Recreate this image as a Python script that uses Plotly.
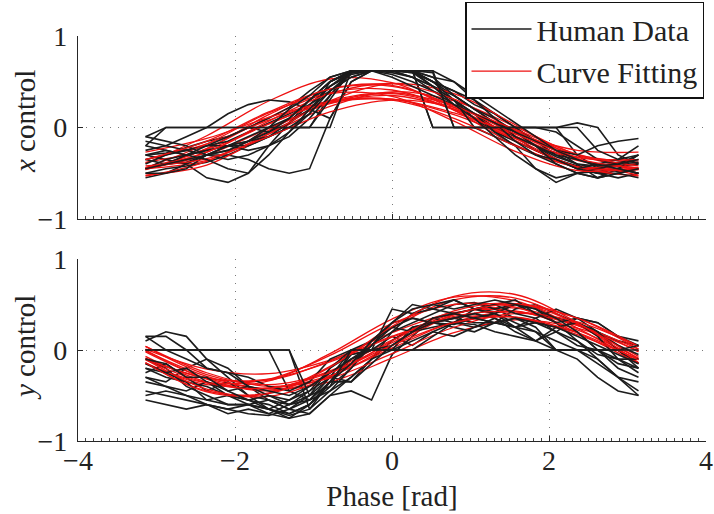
import plotly.graph_objects as go

# ---------------- data ----------------
phase_fit = [-3.14, -2.36, -1.57, -0.79, 0.0, 0.79, 1.57, 2.36, 3.14]
phase_human = [-3.14, -2.88, -2.62, -2.36, -2.09, -1.83, -1.57, -1.31, -1.05,
               -0.79, -0.52, -0.26, 0.0, 0.26, 0.52, 0.79, 1.05, 1.31, 1.57,
               1.83, 2.09, 2.36, 2.62, 2.88, 3.14]

x_human = [
    [-0.10, 0.00, 0.00, 0.00, 0.00, 0.00, 0.00, 0.00, 0.00, 0.35, 0.62, 0.62, 0.62, 0.62, 0.00, 0.00, 0.00, 0.00, 0.00, 0.00, 0.00, -0.30, -0.45, -0.42, -0.40],
    [-0.35, -0.30, -0.22, -0.15, -0.10, 0.00, 0.10, 0.22, 0.40, 0.55, 0.62, 0.62, 0.62, 0.55, 0.45, 0.30, 0.15, 0.00, -0.10, -0.20, -0.32, -0.40, -0.45, -0.48, -0.45],
    [-0.30, -0.35, -0.40, -0.55, -0.60, -0.50, -0.20, 0.05, 0.25, 0.45, 0.60, 0.62, 0.62, 0.60, 0.50, 0.35, 0.20, 0.05, -0.10, -0.25, -0.35, -0.42, -0.50, -0.45, -0.50],
    [-0.45, -0.40, -0.38, -0.30, -0.30, -0.35, -0.45, -0.50, -0.45, 0.10, 0.50, 0.62, 0.62, 0.62, 0.50, 0.40, 0.25, 0.15, 0.00, -0.15, -0.30, -0.40, -0.42, -0.38, -0.35],
    [-0.25, -0.20, -0.10, 0.00, 0.15, 0.25, 0.30, 0.28, 0.20, 0.10, 0.50, 0.62, 0.62, 0.60, 0.45, 0.30, 0.10, -0.05, -0.15, -0.25, -0.35, -0.45, -0.50, -0.50, -0.45],
    [-0.50, -0.45, -0.42, -0.38, -0.30, -0.20, -0.10, 0.05, 0.30, 0.50, 0.60, 0.62, 0.60, 0.55, 0.45, 0.35, 0.20, 0.05, -0.05, -0.20, -0.35, -0.45, -0.50, -0.55, -0.50],
    [-0.55, -0.50, -0.40, -0.30, -0.25, -0.15, -0.05, 0.10, 0.30, 0.45, 0.58, 0.62, 0.62, 0.62, 0.50, 0.40, 0.30, 0.15, 0.00, -0.15, -0.25, -0.40, -0.55, -0.45, -0.30],
    [-0.20, -0.25, -0.30, -0.20, -0.15, -0.05, 0.05, 0.15, 0.25, 0.40, 0.55, 0.62, 0.62, 0.62, 0.00, 0.00, 0.00, 0.00, 0.00, 0.00, -0.05, -0.20, -0.35, -0.40, -0.30],
    [-0.40, -0.30, -0.25, -0.20, -0.10, 0.00, -0.05, 0.05, 0.20, 0.40, 0.60, 0.62, 0.62, 0.62, 0.60, 0.00, 0.00, 0.00, 0.00, 0.00, 0.00, 0.05, 0.00, -0.30, -0.40],
    [-0.35, -0.40, -0.30, -0.25, -0.20, -0.25, -0.20, -0.10, 0.10, 0.35, 0.60, 0.62, 0.58, 0.50, 0.40, 0.25, 0.15, -0.05, -0.20, -0.30, -0.40, -0.50, -0.45, -0.40, -0.38],
    [-0.30, -0.28, -0.25, -0.20, -0.20, -0.10, 0.00, 0.10, 0.30, 0.50, 0.62, 0.62, 0.62, 0.62, 0.50, 0.30, 0.00, -0.10, -0.20, -0.45, -0.60, -0.50, -0.48, -0.45, -0.50],
    [-0.45, -0.35, -0.30, -0.25, -0.20, -0.15, -0.10, 0.00, 0.15, 0.50, 0.62, 0.62, 0.62, 0.62, 0.55, 0.50, 0.30, 0.10, -0.10, -0.20, -0.30, -0.35, -0.40, -0.35, -0.20],
    [-0.15, -0.20, -0.25, -0.30, -0.35, -0.30, -0.20, -0.05, 0.20, 0.45, 0.62, 0.62, 0.62, 0.55, 0.40, 0.30, 0.15, 0.05, -0.15, -0.30, -0.35, -0.45, -0.40, -0.45, -0.50],
    [-0.50, -0.50, -0.45, -0.30, -0.20, -0.20, -0.10, 0.00, 0.00, 0.30, 0.62, 0.62, 0.62, 0.62, 0.55, 0.35, 0.20, 0.10, -0.05, -0.20, -0.40, -0.50, -0.55, -0.50, -0.45],
    [-0.10, -0.15, -0.20, -0.30, -0.25, -0.15, -0.05, 0.10, 0.30, 0.50, 0.62, 0.62, 0.55, 0.45, 0.35, 0.25, 0.15, 0.05, -0.05, -0.15, -0.25, -0.30, -0.20, -0.15, -0.12],
    [-0.20, 0.00, 0.00, 0.00, 0.00, 0.00, 0.00, 0.00, 0.00, 0.00, 0.62, 0.62, 0.62, 0.62, 0.62, 0.00, 0.00, 0.00, 0.00, 0.00, 0.00, 0.00, -0.25, -0.35, -0.30],
    [-0.30, -0.25, -0.30, -0.35, -0.45, -0.50, -0.30, -0.05, 0.15, 0.40, 0.55, 0.62, 0.62, 0.62, 0.45, 0.25, 0.10, -0.10, -0.30, -0.45, -0.55, -0.50, -0.55, -0.50, -0.55],
    [-0.45, -0.40, -0.35, -0.30, -0.20, -0.15, 0.00, 0.20, 0.35, 0.55, 0.62, 0.62, 0.62, 0.62, 0.62, 0.50, 0.35, 0.20, 0.05, -0.10, -0.25, -0.35, -0.42, -0.40, -0.35],
]

x_fit = [
    [-0.45, -0.23, 0.11, 0.38, 0.41, 0.19, -0.15, -0.42, -0.45],
    [-0.39, -0.09, 0.29, 0.53, 0.49, 0.19, -0.19, -0.43, -0.39],
    [-0.45, -0.30, -0.01, 0.26, 0.35, 0.20, -0.09, -0.36, -0.45],
    [-0.45, -0.36, -0.07, 0.23, 0.39, 0.29, 0.01, -0.30, -0.45],
    [-0.46, -0.23, 0.14, 0.42, 0.46, 0.22, -0.14, -0.43, -0.46],
    [-0.38, -0.24, 0.04, 0.29, 0.38, 0.24, -0.04, -0.30, -0.38],
    [-0.53, -0.37, -0.03, 0.27, 0.37, 0.20, -0.12, -0.43, -0.53],
    [-0.35, -0.18, 0.08, 0.29, 0.31, 0.14, -0.12, -0.33, -0.35],
    [-0.52, -0.41, -0.07, 0.29, 0.48, 0.37, 0.03, -0.34, -0.52],
    [-0.27, -0.12, 0.11, 0.28, 0.31, 0.16, -0.07, -0.25, -0.27],
    [-0.44, -0.18, 0.16, 0.37, 0.34, 0.07, -0.26, -0.47, -0.44],
    [-0.46, -0.27, 0.04, 0.27, 0.30, 0.10, -0.20, -0.43, -0.46],
    [-0.44, -0.27, 0.07, 0.37, 0.48, 0.31, -0.03, -0.34, -0.44],
    [-0.42, -0.34, -0.10, 0.17, 0.30, 0.22, -0.02, -0.29, -0.42],
    [-0.35, -0.15, 0.17, 0.42, 0.45, 0.24, -0.07, -0.32, -0.35],
]

y_human = [
    [0.15, 0.00, 0.00, 0.00, 0.00, 0.00, 0.00, 0.00, -0.65, -0.35, -0.10, 0.00, 0.00, 0.00, 0.00, 0.00, 0.00, 0.00, 0.00, 0.00, 0.00, 0.00, -0.10, -0.30, -0.35],
    [-0.20, -0.30, -0.35, -0.40, -0.50, -0.60, -0.65, -0.70, -0.60, -0.40, -0.20, 0.10, 0.30, 0.35, 0.30, 0.35, 0.40, 0.45, 0.35, 0.30, 0.25, 0.20, 0.00, -0.20, -0.30],
    [-0.55, -0.60, -0.65, -0.60, -0.65, -0.70, -0.72, -0.65, -0.55, -0.45, -0.30, -0.10, 0.10, 0.25, 0.30, 0.28, 0.35, 0.30, 0.25, 0.20, 0.10, 0.00, -0.15, -0.30, -0.50],
    [0.10, 0.20, 0.15, -0.10, -0.30, -0.50, -0.55, -0.60, -0.50, -0.30, -0.35, -0.10, 0.20, 0.30, 0.40, 0.50, 0.52, 0.45, 0.50, 0.40, 0.35, 0.30, 0.20, 0.05, -0.05],
    [-0.25, -0.15, -0.30, -0.45, -0.35, -0.50, -0.65, -0.75, -0.70, -0.50, -0.45, -0.55, -0.05, 0.15, 0.35, 0.30, 0.25, 0.30, 0.45, 0.50, 0.40, 0.30, 0.20, 0.10, 0.05],
    [-0.30, -0.35, -0.20, -0.10, -0.20, -0.40, -0.55, -0.65, -0.50, -0.20, -0.05, 0.00, 0.15, 0.05, 0.20, 0.30, 0.45, 0.40, 0.25, 0.10, 0.20, 0.35, 0.30, 0.15, 0.05],
    [-0.45, -0.50, -0.55, -0.60, -0.70, -0.65, -0.70, -0.60, -0.45, -0.30, -0.15, 0.05, 0.20, 0.40, 0.50, 0.55, 0.45, 0.40, 0.50, 0.45, 0.30, 0.10, -0.10, -0.30, -0.45],
    [0.00, 0.00, 0.00, 0.00, 0.00, 0.00, 0.00, -0.45, -0.55, -0.30, 0.00, 0.00, 0.00, 0.25, 0.30, 0.35, 0.30, 0.30, 0.35, 0.25, 0.00, 0.00, 0.00, 0.00, -0.20],
    [-0.20, -0.25, -0.35, -0.55, -0.60, -0.60, -0.65, -0.55, -0.40, -0.25, -0.10, 0.05, 0.25, 0.35, 0.30, 0.25, 0.20, 0.30, 0.25, 0.35, 0.45, 0.35, 0.20, 0.00, -0.15],
    [-0.10, -0.20, -0.40, -0.50, -0.60, -0.60, -0.55, -0.65, -0.70, -0.50, -0.30, -0.10, 0.00, 0.10, 0.20, 0.15, 0.25, 0.35, 0.20, 0.10, 0.25, 0.30, 0.15, -0.10, -0.25],
    [-0.30, -0.40, -0.45, -0.35, -0.50, -0.55, -0.60, -0.70, -0.60, -0.35, -0.05, 0.00, 0.45, 0.40, 0.45, 0.55, 0.45, 0.50, 0.55, 0.40, 0.30, 0.35, 0.30, 0.15, 0.10],
    [0.00, 0.00, -0.10, -0.20, -0.25, -0.30, -0.40, -0.45, -0.35, -0.10, 0.00, 0.10, 0.25, 0.20, 0.25, 0.30, 0.28, 0.20, 0.15, 0.10, 0.00, -0.10, -0.30, -0.45, -0.50],
    [-0.35, -0.40, -0.50, -0.55, -0.50, -0.55, -0.65, -0.72, -0.65, -0.45, -0.20, 0.05, 0.30, 0.50, 0.45, 0.40, 0.45, 0.50, 0.40, 0.35, 0.20, 0.05, 0.00, -0.15, -0.20],
    [-0.15, -0.25, -0.20, -0.35, -0.45, -0.40, -0.50, -0.55, -0.45, -0.20, 0.00, 0.00, 0.00, 0.00, 0.15, 0.30, 0.35, 0.40, 0.30, 0.20, 0.00, 0.00, 0.00, 0.00, 0.05],
    [0.15, 0.15, 0.00, -0.20, -0.25, -0.40, -0.45, -0.50, -0.40, -0.25, -0.10, 0.00, 0.05, 0.20, 0.30, 0.35, 0.40, 0.35, 0.25, 0.30, 0.20, 0.10, -0.05, -0.10, -0.10],
    [0.00, 0.00, 0.00, 0.00, 0.00, 0.00, 0.00, 0.00, -0.50, -0.40, 0.00, 0.00, 0.00, 0.00, 0.00, 0.00, 0.00, 0.00, 0.00, 0.00, 0.00, 0.00, 0.00, 0.00, 0.00],
    [-0.50, -0.45, -0.50, -0.60, -0.65, -0.60, -0.70, -0.75, -0.60, -0.35, -0.15, 0.10, 0.30, 0.45, 0.50, 0.45, 0.50, 0.55, 0.50, 0.45, 0.35, 0.20, 0.00, -0.10, -0.20],
    [-0.10, -0.15, -0.30, -0.30, -0.45, -0.55, -0.50, -0.60, -0.55, -0.35, -0.35, -0.15, 0.05, 0.20, 0.35, 0.40, 0.35, 0.30, 0.35, 0.30, 0.25, 0.15, 0.05, -0.05, -0.15],
]

y_fit = [
    [-0.07, -0.35, -0.42, -0.23, 0.11, 0.40, 0.46, 0.27, -0.07],
    [-0.14, -0.38, -0.34, -0.04, 0.34, 0.58, 0.54, 0.24, -0.14],
    [-0.09, -0.31, -0.33, -0.12, 0.19, 0.41, 0.43, 0.22, -0.09],
    [-0.02, -0.31, -0.42, -0.28, 0.02, 0.31, 0.42, 0.28, -0.02],
    [-0.01, -0.29, -0.43, -0.35, -0.09, 0.19, 0.33, 0.24, -0.01],
    [-0.14, -0.45, -0.47, -0.18, 0.24, 0.55, 0.57, 0.28, -0.14],
    [0.01, -0.21, -0.26, -0.11, 0.15, 0.37, 0.42, 0.27, 0.01],
    [0.00, -0.32, -0.45, -0.29, 0.05, 0.39, 0.51, 0.35, 0.01],
    [-0.15, -0.36, -0.32, -0.06, 0.29, 0.50, 0.47, 0.19, -0.15],
    [0.04, -0.25, -0.40, -0.31, -0.04, 0.25, 0.40, 0.31, 0.04],
    [-0.10, -0.43, -0.51, -0.29, 0.10, 0.43, 0.51, 0.29, -0.10],
    [-0.10, -0.31, -0.32, -0.13, 0.14, 0.35, 0.36, 0.17, -0.10],
    [0.04, -0.27, -0.38, -0.24, 0.08, 0.39, 0.50, 0.35, 0.04],
    [-0.14, -0.46, -0.48, -0.19, 0.26, 0.59, 0.61, 0.30, -0.14],
    [-0.11, -0.36, -0.42, -0.25, 0.05, 0.30, 0.36, 0.19, -0.11],
]

x_ticks = [-4, -2, 0, 2, 4]
y_ticks = [-1, 0, 1]
legend_names = ["Human Data", "Curve Fitting"]
y_titles = ["<i>x</i> control", "<i>y</i> control"]
x_title = "Phase [rad]"

# ---------------- figure ----------------
W, H = 714, 514
FONT = "'Liberation Serif', 'Times New Roman', Times, serif"
BLACK = "#1c1c1c"
RED = "#ee1111"
TXT = "#222222"

fig = go.Figure()


def add_panel(human, fit, xa, ya, show_legend):
    n = max(len(human), len(fit))
    for i in range(n):
        if i < len(human):
            fig.add_trace(go.Scatter(
                x=phase_human, y=human[i], mode="lines", xaxis=xa, yaxis=ya,
                line=dict(color=BLACK, width=1.6),
                name=legend_names[0], legendgroup="h",
                showlegend=(show_legend and i == 0), hoverinfo="skip"))
        if i < len(fit):
            fig.add_trace(go.Scatter(
                x=phase_fit, y=fit[i], mode="lines", xaxis=xa, yaxis=ya,
                line=dict(color=RED, width=1.3, shape="spline", smoothing=1.0),
                name=legend_names[1], legendgroup="f",
                showlegend=(show_legend and i == 0), hoverinfo="skip"))


add_panel(x_human, x_fit, "x", "y", True)
add_panel(y_human, y_fit, "x2", "y2", False)

x_dom = [78 / W, 706 / W]
top_dom = [(H - 219) / H, (H - 36) / H]
bot_dom = [(H - 441) / H, (H - 259) / H]

axis_common = dict(
    showline=True, linecolor="#262626", linewidth=1.3, mirror=False,
    ticks="inside", ticklen=5, tickcolor="#262626", tickwidth=1,
    showgrid=True, gridcolor="#7a7a7a", griddash="1px,7px", gridwidth=1,
    zeroline=False, automargin=False,
    tickfont=dict(family=FONT, size=28, color=TXT),
)

xaxis_common = dict(axis_common, range=[-4, 4], tickmode="array", tickvals=x_ticks,
                    minor=dict(ticks="inside", ticklen=2.5, dtick=0.1,
                               tickcolor="#444", showgrid=False))
yaxis_common = dict(axis_common, range=[-1, 1], tickmode="array", tickvals=y_ticks,
                    ticklabelstandoff=4)

fig.update_layout(
    width=W, height=H,
    margin=dict(l=0, r=0, t=0, b=0, autoexpand=False),
    paper_bgcolor="white", plot_bgcolor="white",
    font=dict(family=FONT, size=28, color=TXT),
    xaxis=dict(xaxis_common, domain=x_dom, anchor="y", showticklabels=False),
    yaxis=dict(yaxis_common, domain=top_dom, anchor="x"),
    xaxis2=dict(xaxis_common, domain=x_dom, anchor="y2",
                ticklabelstandoff=-6,
                title=dict(text=x_title, font=dict(family=FONT, size=29, color=TXT),
                           standoff=10)),
    yaxis2=dict(yaxis_common, domain=bot_dom, anchor="x2"),
    legend=dict(
        x=465 / W, y=0.997, xanchor="left", yanchor="top",
        bgcolor="white", bordercolor="#111", borderwidth=1.5,
        font=dict(family=FONT, size=30, color=TXT),
        itemwidth=60, tracegroupgap=0,
    ),
    showlegend=True,
    annotations=[
        dict(text=y_titles[0], x=25 / W, y=(H - 122) / H, xref="paper", yref="paper",
             xanchor="center", yanchor="middle", textangle=-90, showarrow=False,
             font=dict(family=FONT, size=29, color=TXT)),
        dict(text=y_titles[1], x=25 / W, y=(H - 348) / H, xref="paper", yref="paper",
             xanchor="center", yanchor="middle", textangle=-90, showarrow=False,
             font=dict(family=FONT, size=29, color=TXT)),
    ],
)

fig.write_html("out.html")
